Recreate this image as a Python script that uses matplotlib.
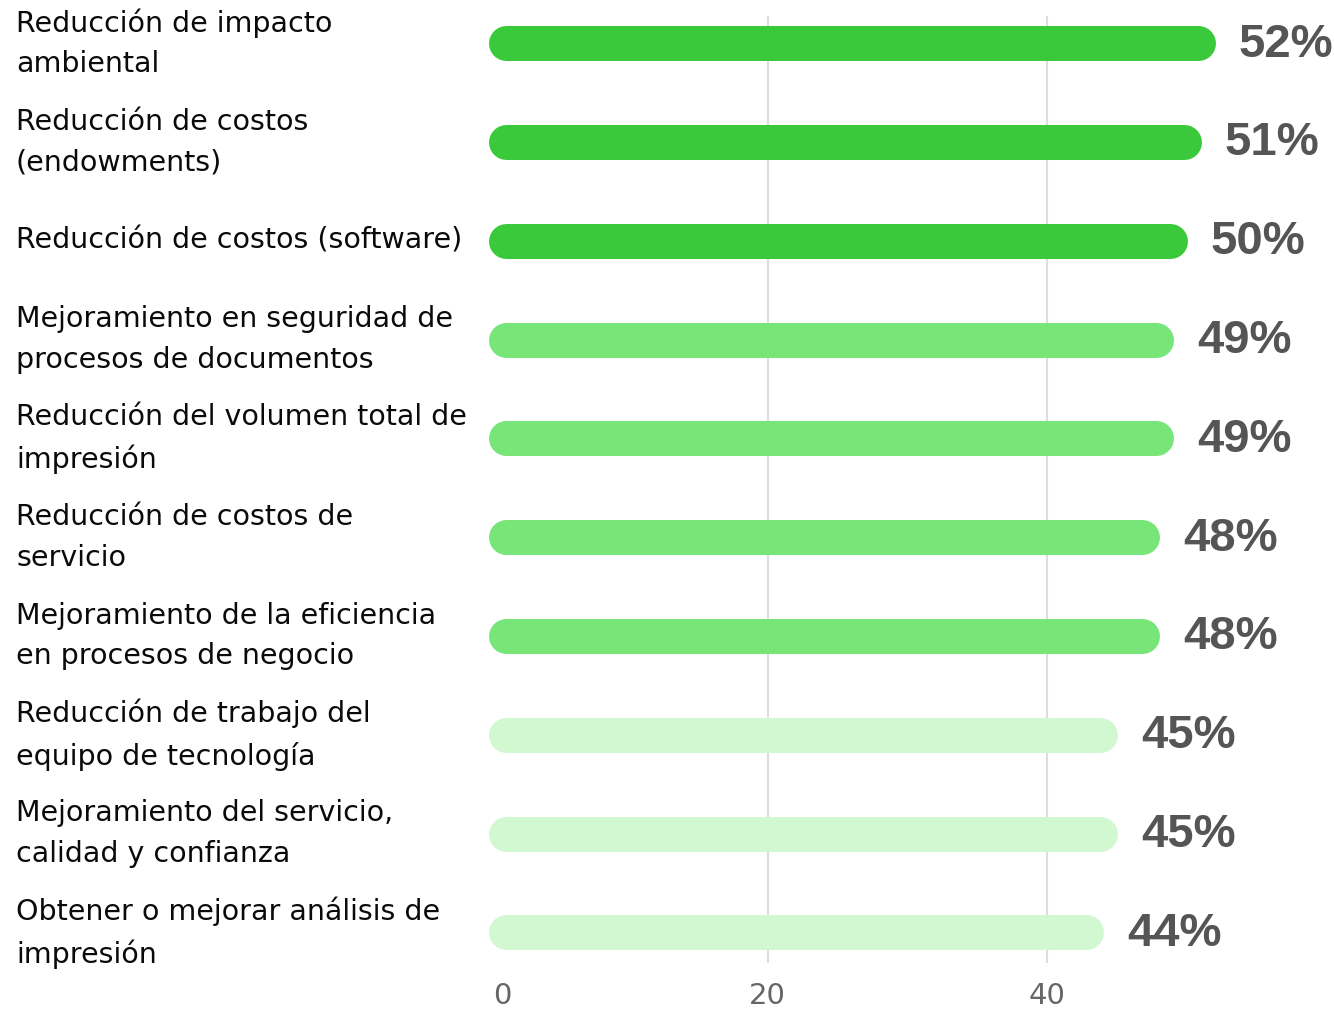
import matplotlib
matplotlib.use("Agg")
import matplotlib.pyplot as plt

# categories top -> bottom
labels = [
    "Reducción de impacto\nambiental",
    "Reducción de costos\n(endowments)",
    "Reducción de costos (software)",
    "Mejoramiento en seguridad de\nprocesos de documentos",
    "Reducción del volumen total de\nimpresión",
    "Reducción de costos de\nservicio",
    "Mejoramiento de la eficiencia\nen procesos de negocio",
    "Reducción de trabajo del\nequipo de tecnología",
    "Mejoramiento del servicio,\ncalidad y confianza",
    "Obtener o mejorar análisis de\nimpresión",
]
values = [52, 51, 50, 49, 49, 48, 48, 45, 45, 44]
tiers = [0, 0, 0, 1, 1, 1, 1, 2, 2, 2]
tier_colors = ["#3AC93A", "#78E578", "#D2F8D2"]
xticks = [0, 20, 40]

W, H = 1334, 1009
fig = plt.figure(figsize=(W / 100, H / 100), dpi=100)
ax_left, ax_right = 488, 1334
ax_top, ax_bot = 16, 963
ax = fig.add_axes([ax_left / W, 1 - ax_bot / H, (ax_right - ax_left) / W, (ax_bot - ax_top) / H])

xmax = 60.5
ax.set_xlim(0, xmax)
ylo, yhi = len(values) - 1 + 0.31, -0.275
ax.set_ylim(ylo, yhi)

px_per_unit = (ax_right - ax_left) / xmax
bar_px = 35
r = (bar_px / 2) / px_per_unit

for i, (v, t) in enumerate(zip(values, tiers)):
    ax.plot([r, v - r], [i, i], color=tier_colors[t], lw=bar_px * 0.72,
            solid_capstyle="round", zorder=3)
    ax.annotate(f"{v}%", (v, i), xytext=(17, -1), textcoords="offset points",
                ha="left", va="center", fontsize=34, fontweight="bold",
                color="#555555", family="Liberation Sans", annotation_clip=False)
    ypix = ax_top + (i - yhi) * (ax_bot - ax_top) / (ylo - yhi)
    fig.text(16 / W, 1 - ypix / H, labels[i], ha="left", va="center",
             fontsize=20.5, color="#0a0a0a", family="DejaVu Sans", linespacing=1.58)

ax.set_xticks(xticks[1:])
ax.set_xticklabels([str(x) for x in xticks[1:]], fontsize=21, color="#666666",
                   family="DejaVu Sans")
# zero tick label without a gridline
ax.text(xticks[0] + 1, -0.035, str(xticks[0]), transform=ax.get_xaxis_transform(),
        ha="center", va="center", fontsize=21, color="#666666", family="DejaVu Sans")
ax.tick_params(axis="x", length=0, pad=14)
ax.set_yticks([])
ax.grid(axis="x", color="#dddddd", lw=1.5, zorder=0)
for s in ax.spines.values():
    s.set_visible(False)

fig.savefig("out.png", dpi=100)
